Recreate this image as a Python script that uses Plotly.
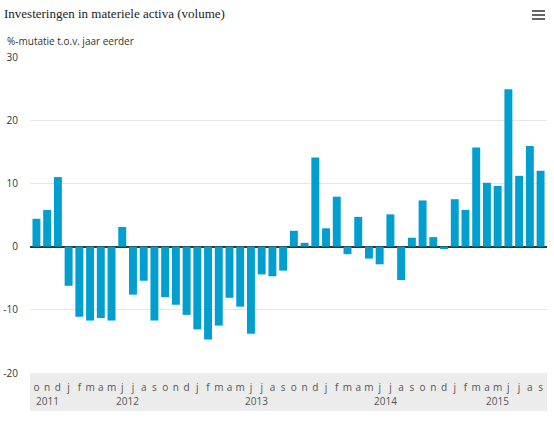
import plotly.graph_objects as go

# --- data ---
years = ["2011"] * 3 + ["2012"] * 12 + ["2013"] * 12 + ["2014"] * 12 + ["2015"] * 9
months = (["o", "n", "d"]
          + ["j", "f", "m", "a", "m", "j", "j", "a", "s", "o", "n", "d"] * 3
          + ["j", "f", "m", "a", "m", "j", "j", "a", "s"])
mutatie = [4.4, 5.8, 11.0,
           -6.2, -11.1, -11.7, -11.3, -11.7, 3.1, -7.6, -5.4, -11.7, -8.0, -9.2, -10.8,
           -13.1, -14.7, -12.5, -8.1, -9.5, -13.8, -4.4, -4.7, -3.8, 2.5, 0.6, 14.1,
           2.9, 7.9, -1.2, 4.7, -1.9, -2.8, 5.1, -5.3, 1.4, 7.3, 1.5, -0.4,
           7.5, 5.8, 15.7, 10.1, 9.6, 24.9, 11.2, 15.9, 12.0]
y_ticks = [-20, -10, 0, 10, 20, 30]
y_ticktext = ["-20", "-10", "0", "10", "20", "30"]

BAR_COLOR = "#009fcf"
TXT = "#333333"

fig = go.Figure(go.Bar(
    x=list(range(len(mutatie))),
    y=mutatie,
    marker_color=BAR_COLOR,
    marker_line_width=0,
))

# jaarlabels gecentreerd onder de maanden van dat jaar
year_ann = []
for yr in dict.fromkeys(years):
    idx = [i for i, y in enumerate(years) if y == yr]
    year_ann.append(dict(
        x=sum(idx) / len(idx), xref="x", y=-0.088, yref="paper",
        text=yr, showarrow=False, xanchor="center", yanchor="middle",
        font=dict(family="Open Sans", size=10, color="#555555"),
    ))

fig.update_layout(
    width=554, height=428,
    margin=dict(l=30, r=7, t=57, b=55, autoexpand=False),
    plot_bgcolor="white",
    paper_bgcolor="white",
    showlegend=False,
    bargap=0.26,
    title=dict(
        text="Investeringen in materiele activa (volume)",
        x=4 / 554, xanchor="left", y=1 - 13 / 428, yanchor="middle",
        font=dict(family="Liberation Serif", size=13, color="#222222"),
    ),
    annotations=year_ann + [dict(
        text="%-mutatie t.o.v. jaar eerder",
        xref="paper", yref="paper", x=-25 / 517, y=(373 - 41) / 316,
        xanchor="left", yanchor="middle", showarrow=False,
        font=dict(family="Open Sans", size=10, color=TXT),
    )],
    shapes=[
        # grijze band onder de x-as
        dict(type="rect", xref="paper", yref="paper", x0=0, x1=1,
             y0=-0.12, y1=0, fillcolor="#ececec", line_width=0, layer="below"),
    ] + [
        # menu-icoon
        dict(type="line", xref="paper", yref="paper",
             x0=502 / 517, x1=515 / 517, y0=yy, y1=yy,
             line=dict(color="#666666", width=2))
        for yy in [(373 - 11) / 316, (373 - 15) / 316, (373 - 19) / 316]
    ],
)

fig.update_xaxes(
    tickmode="array",
    tickvals=list(range(len(months))),
    ticktext=months,
    tickangle=0,
    showgrid=False,
    showline=False,
    ticks="",
    automargin=False,
    range=[-0.6, len(mutatie) - 0.4],
    tickfont=dict(family="Open Sans", size=10, color="#555555"),
    ticklabelstandoff=7,
)

fig.update_yaxes(
    range=[-20, 30],
    tickmode="array",
    tickvals=y_ticks,
    ticktext=y_ticktext,
    showgrid=True,
    gridcolor="#e6e6e6",
    gridwidth=1,
    zeroline=True,
    zerolinecolor="#333333",
    zerolinewidth=2,
    ticks="",
    automargin=False,
    tickfont=dict(family="Open Sans", size=10, color=TXT),
    ticklabelstandoff=11,
)

fig.write_html("out.html", config={"displayModeBar": False},
               post_script="document.body.style.margin='0';")
